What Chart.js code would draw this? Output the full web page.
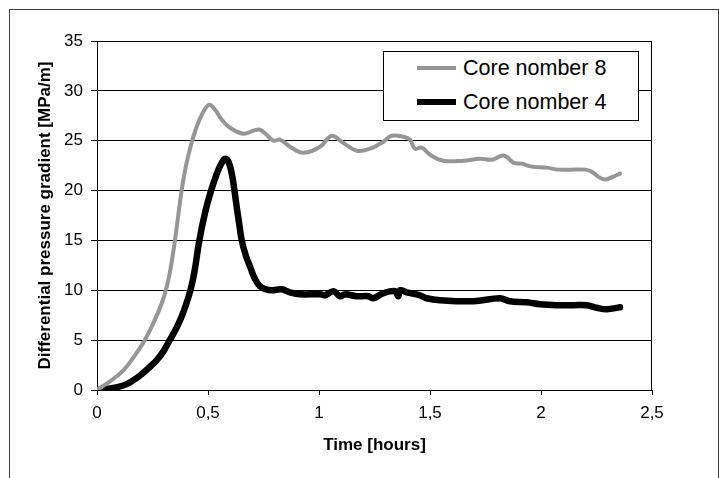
<!DOCTYPE html>
<html lang="en">
<head>
  <meta charset="UTF-8">
  <title>Differential pressure gradient</title>
  <script src="https://cdn.jsdelivr.net/npm/chart.js"></script>
  <style>
    * {
      font-family: 'Liberation Sans', Arial, sans-serif;
    }

    html, body {
      margin: 0;
      padding: 0;
      background: #fff;
    }

    .wrap {
      position: relative;
      width: 719px;
      height: 478px;
      overflow: hidden;
    }

    .frame {
      position: absolute;
      left: 9px;
      top: 9px;
      width: 708px;
      height: 480px;
      border: 1px solid #404040;
      border-bottom: none;
    }

    #legend {
      position: absolute;
      left: 383px;
      top: 51px;
      width: 254px;
      height: 68px;
      border: 1px solid #000;
      background: #fff;
    }

    #legend .row {
      position: absolute;
      left: 33px;
      height: 30px;
      display: flex;
      align-items: center;
      font-size: 21.5px;
      color: #000;
      white-space: nowrap;
    }

    #legend .swatch {
      width: 39px;
      margin-right: 7px;
    }
  </style>
</head>
<body>
<div class="wrap">
  <div class="frame"></div>
  <canvas id="myChart" width="719" height="478"></canvas>
  <div id="legend"></div>
</div>

<script>
  // Core nomber 8 (grey)
  const core8Time = [0, 0.06, 0.12, 0.165, 0.215, 0.26, 0.29, 0.31, 0.33, 0.351, 0.366, 0.381, 0.40, 0.419,
    0.449, 0.479, 0.506, 0.532, 0.562, 0.599, 0.659, 0.704, 0.734, 0.764, 0.794, 0.824, 0.869, 0.929, 1.005,
    1.057, 1.102, 1.17, 1.23, 1.29, 1.327, 1.38, 1.41, 1.432, 1.463, 1.5, 1.56, 1.65, 1.725, 1.778, 1.823,
    1.845, 1.875, 1.913, 1.958, 2.026, 2.078, 2.13, 2.198, 2.228, 2.258, 2.288, 2.326, 2.356];
  const core8Value = [0, 0.9, 2.0, 3.3, 5.0, 7.0, 8.6, 10.0, 12.0, 15.0, 17.5, 20.0, 22.4, 24.2,
    26.4, 27.9, 28.6, 28.1, 27.1, 26.3, 25.7, 26.0, 26.1, 25.6, 25.0, 25.1, 24.4, 23.8, 24.4,
    25.5, 24.9, 24.0, 24.2, 24.9, 25.5, 25.4, 25.1, 24.2, 24.3, 23.6, 23.0, 23.0, 23.2, 23.1, 23.5,
    23.4, 22.8, 22.7, 22.4, 22.3, 22.1, 22.1, 22.1, 21.9, 21.4, 21.1, 21.4, 21.7];

  // Core nomber 4 (black)
  const core4Time = [0, 0.06, 0.118, 0.155, 0.194, 0.23, 0.269, 0.3, 0.325, 0.355, 0.38, 0.4, 0.422,
    0.44, 0.461, 0.487, 0.514, 0.545, 0.565, 0.577, 0.592, 0.607, 0.618, 0.629, 0.641, 0.652, 0.67,
    0.689, 0.71, 0.734, 0.76, 0.787, 0.832, 0.869, 0.914, 1.005, 1.027, 1.065, 1.095, 1.117, 1.17, 1.222,
    1.245, 1.29, 1.342, 1.357, 1.365, 1.395, 1.455, 1.485, 1.545, 1.695, 1.815, 1.86, 1.936, 1.995, 2.071,
    2.146, 2.206, 2.251, 2.296, 2.356];
  const core4Value = [0, 0.15, 0.45, 0.85, 1.45, 2.15, 3.0, 3.9, 4.9, 6.1, 7.3, 8.5, 10.1,
    12.0, 15.0, 17.8, 20.0, 22.0, 22.9, 23.2, 22.9, 21.7, 20.2, 18.4, 16.6, 15.0, 13.5,
    12.4, 11.2, 10.4, 10.1, 10.0, 10.1, 9.8, 9.6, 9.6, 9.5, 9.9, 9.4, 9.6, 9.4, 9.4,
    9.2, 9.7, 9.9, 9.4, 10.0, 9.8, 9.5, 9.2, 9.0, 8.9, 9.2, 8.9, 8.8, 8.6, 8.5,
    8.5, 8.5, 8.25, 8.1, 8.3];

  const xTicks = [0, 0.5, 1, 1.5, 2, 2.5];
  const yTicks = [0, 5, 10, 15, 20, 25, 30, 35];

  const toPoints = (xs, ys) => xs.map((x, i) => ({x: x, y: ys[i]}));

  const seriesList = [
    {label: 'Core nomber 8', data: toPoints(core8Time, core8Value), color: '#969696', width: 4},
    {label: 'Core nomber 4', data: toPoints(core4Time, core4Value), color: '#000000', width: 6.5}
  ];

  // frame round the plot area (top + right edge)
  const plotFrame = {
    id: 'plotFrame',
    beforeDatasetsDraw(chart) {
      const a = chart.chartArea;
      const c = chart.ctx;
      c.save();
      c.strokeStyle = '#000';
      c.lineWidth = 1;
      c.beginPath();
      c.moveTo(a.left, a.top + 0.5);
      c.lineTo(a.right - 0.5, a.top + 0.5);
      c.lineTo(a.right - 0.5, a.bottom);
      c.stroke();
      c.restore();
    }
  };

  const ctx = document.getElementById('myChart').getContext('2d');
  const myChart = new Chart(ctx, {
    type: 'line',
    data: {
      datasets: seriesList.map(s => ({
        label: s.label,
        data: s.data,
        borderColor: s.color,
        backgroundColor: s.color,
        borderWidth: s.width,
        pointRadius: 0,
        tension: 0.4,
        borderCapStyle: 'round',
        borderJoinStyle: 'round',
        fill: false
      }))
    },
    options: {
      responsive: false,
      animation: false,
      layout: {
        padding: {top: 41, right: 67, left: 0, bottom: 0}
      },
      scales: {
        x: {
          type: 'linear',
          min: 0,
          max: 2.5,
          afterFit: function (scale) { scale.height = 88; },
          afterBuildTicks: function (scale) { scale.ticks = xTicks.map(v => ({value: v})); },
          ticks: {
            color: '#000',
            font: {size: 17},
            padding: 8,
            maxRotation: 0,
            callback: v => String(v).replace('.', ',')
          },
          grid: {
            drawOnChartArea: false,
            drawTicks: true,
            tickLength: 5,
            color: '#000'
          },
          border: {color: '#000', width: 1},
          title: {
            display: true,
            text: 'Time [hours]',
            color: '#000',
            font: {size: 17, weight: 'bold'},
            padding: {top: 0, bottom: 22}
          }
        },
        y: {
          min: 0,
          max: 35,
          afterFit: function (scale) { scale.width = 97; },
          afterBuildTicks: function (scale) { scale.ticks = yTicks.map(v => ({value: v})); },
          ticks: {
            color: '#000',
            font: {size: 17},
            padding: 8
          },
          grid: {
            color: '#000',
            lineWidth: 1,
            tickLength: 6
          },
          border: {color: '#000', width: 1},
          title: {
            display: true,
            text: 'Differential pressure gradient [MPa/m]',
            color: '#000',
            font: {size: 17, weight: 'bold'},
            padding: {top: 35, bottom: 0}
          }
        }
      },
      plugins: {
        legend: {display: false},
        tooltip: {enabled: false}
      }
    },
    plugins: [plotFrame]
  });

  // legend box inside the plot, built from the datasets
  const legendBox = document.getElementById('legend');
  seriesList.forEach((s, i) => {
    const row = document.createElement('div');
    row.className = 'row';
    row.style.top = (i === 0 ? 1 : 35) + 'px';
    const sw = document.createElement('span');
    sw.className = 'swatch';
    sw.style.height = s.width + 'px';
    sw.style.background = s.color;
    const txt = document.createElement('span');
    txt.textContent = s.label;
    row.appendChild(sw);
    row.appendChild(txt);
    legendBox.appendChild(row);
  });
</script>
</body>
</html>
